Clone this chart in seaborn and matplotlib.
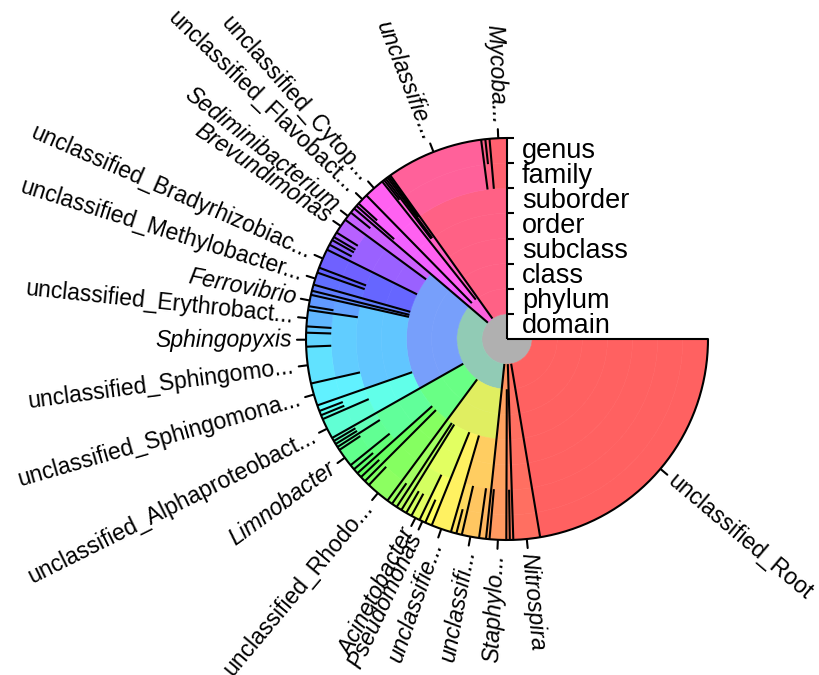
import numpy as np
import matplotlib
matplotlib.use("Agg")
import matplotlib.pyplot as plt
from matplotlib import transforms, markers
import seaborn as sns

sns.set_style("white")
plt.rcParams["font.family"] = ["Liberation Sans", "DejaVu Sans"]

# ---------------- data ----------------
ranks = ["domain", "phylum", "class", "subclass", "order", "suborder", "family", "genus"]

ACT = "Bacteria;Actinobacteria;Actinobacteria;Actinobacteridae;Actinomycetales;Corynebacterineae;"
SPB = "Bacteria;Bacteroidetes;Sphingobacteriia;Sphingobacteriia_sc;Sphingobacteriales;"
CYT = "Bacteria;Bacteroidetes;Cytophagia;Cytophagia_sc;Cytophagales;Cytophagales_so;"
FLA = "Bacteria;Bacteroidetes;Flavobacteriia;Flavobacteriia_sc;Flavobacteriales;Flavobacteriales_so;"
ALP = "Bacteria;Proteobacteria;Alphaproteobacteria;Alphaproteobacteria_sc;"
BET = "Bacteria;Proteobacteria;Betaproteobacteria;Betaproteobacteria_sc;"
GAM = "Bacteria;Proteobacteria;Gammaproteobacteria;Gammaproteobacteria_sc;"
FIR = "Bacteria;Firmicutes;"

lineage = [
    ACT + "Mycobacteriaceae;Mycobacterium",
    ACT + "Nocardiaceae;Rhodococcus",
    ACT + "Nocardiaceae;Nocardia",
    ACT + "unclassified_Corynebacterineae;unclassified_Corynebacterineae",
    SPB + "Sphingobacteriales_so1;Sphingobacteriaceae;Pedobacter",
    SPB + "Sphingobacteriales_so1;Saprospiraceae;Haliscomenobacter",
    SPB + "Sphingobacteriales_so2;Chitinophagaceae;Ferruginibacter",
    SPB + "Sphingobacteriales_so3;Chitinophagaceae;Terrimonas",
    SPB + "Sphingobacteriales_so3;Chitinophagaceae;Flavisolibacter",
    CYT + "unclassified_Cytophagales;unclassified_Cytophagales",
    FLA + "Flavobacteriaceae;unclassified_Flavobacteriaceae",
    FLA + "Flavobacteriaceae;Flavobacterium",
    FLA + "Cryomorphaceae;Fluviicola",
    ALP + "Parvularculales;Parvularculales_so;Parvularculaceae;Parvularcula",
    ALP + "Parvularculales;Parvularculales_so;Parvularculaceae;Sediminibacterium",
    ALP + "Caulobacterales;Caulobacterales_so;Caulobacteraceae;Brevundimonas",
    ALP + "Caulobacterales;Caulobacterales_so;Caulobacteraceae;Caulobacter",
    ALP + "Caulobacterales;Caulobacterales_so;Caulobacteraceae;Phenylobacterium",
    ALP + "Caulobacterales;Caulobacterales_so;Caulobacteraceae;Asticcacaulis",
    ALP + "Caulobacterales;Caulobacterales_so;Caulobacteraceae;Brevundimonas_2",
    ALP + "Rhizobiales;Rhizobiales_so;Bradyrhizobiaceae;unclassified_Bradyrhizobiaceae",
    ALP + "Rhizobiales;Rhizobiales_so;Hyphomicrobiaceae;Hyphomicrobium",
    ALP + "Rhizobiales;Rhizobiales_so;Methylobacteriaceae;unclassified_Methylobacteriaceae",
    ALP + "Rhodobacterales;Rhodobacterales_so;Rhodobacteraceae;Rhodobacter",
    ALP + "Rickettsiales;Rickettsiales_so;Rickettsiaceae;Rickettsia",
    ALP + "Sphingomonadales;Sphingomonadales_so;Rhodospirillaceae;Ferrovibrio",
    ALP + "Sphingomonadales;Sphingomonadales_so;Rhodospirillaceae;Azospirillum",
    ALP + "Sphingomonadales;Sphingomonadales_so;Sphingomonadaceae;unclassified_Erythrobacteraceae",
    ALP + "Sphingomonadales;Sphingomonadales_so;Sphingomonadaceae;Sphingomonas",
    ALP + "Sphingomonadales;Sphingomonadales_so;Sphingomonadaceae;Sphingopyxis",
    ALP + "Sphingomonadales;Sphingomonadales_so;Sphingomonadaceae;unclassified_Sphingomonadaceae",
    ALP + "Sphingomonadales;Sphingomonadales_so;unclassified_Sphingomonadales;unclassified_Sphingomonadales",
    ALP + "unclassified_Alphaproteobacteria;unclassified_Alphaproteobacteria;Alpha_f1;Alpha_g1",
    ALP + "unclassified_Alphaproteobacteria;unclassified_Alphaproteobacteria;Alpha_f1;Alpha_g2",
    ALP + "unclassified_Alphaproteobacteria;unclassified_Alphaproteobacteria;Alpha_f1;Alpha_g3",
    ALP + "unclassified_Alphaproteobacteria;unclassified_Alphaproteobacteria;unclassified_Alphaproteobacteria;unclassified_Alphaproteobacteria",
    BET + "Burkholderiales;Burkholderiales_so;Comamonadaceae;Acidovorax",
    BET + "Burkholderiales;Burkholderiales_so;Comamonadaceae;Hydrogenophaga",
    BET + "Burkholderiales;Burkholderiales_so;Comamonadaceae;Curvibacter",
    BET + "Burkholderiales;Burkholderiales_so;Burkholderiaceae;Ralstonia",
    BET + "Burkholderiales;Burkholderiales_so;Burkholderiaceae;Limnobacter",
    BET + "Burkholderiales;Burkholderiales_so;Oxalobacteraceae;Massilia",
    BET + "Burkholderiales;Burkholderiales_so;Oxalobacteraceae;Undibacterium",
    BET + "Methylophilales;Methylophilales_so;Methylophilaceae;Methylotenera",
    BET + "Methylophilales;Methylophilales_so;Methylophilaceae;Methylophilus",
    BET + "Rhodocyclales;Rhodocyclales_so;Rhodocyclaceae;Dechloromonas",
    BET + "Rhodocyclales;Rhodocyclales_so;Rhodocyclaceae;unclassified_Rhodocyclaceae",
    GAM + "Enterobacteriales;Enterobacteriales_so;Enterobacteriaceae;Escherichia",
    GAM + "Enterobacteriales;Enterobacteriales_so;Enterobacteriaceae;Enterobacter",
    GAM + "Legionellales;Legionellales_so;Legionellaceae;Legionella",
    GAM + "Pseudomonadales;Pseudomonadales_so;Moraxellaceae;Enhydrobacter",
    GAM + "Pseudomonadales;Pseudomonadales_so;Moraxellaceae;Psychrobacter",
    GAM + "Pseudomonadales;Pseudomonadales_so;Moraxellaceae;Acinetobacter",
    GAM + "Pseudomonadales;Pseudomonadales_so;Pseudomonadaceae;Pseudomonas",
    GAM + "Pseudomonadales;Pseudomonadales_so;Pseudomonadaceae;Cellvibrio",
    GAM + "unclassified_Gammaproteobacteria;unclassified_Gammaproteobacteria;unclassified_Gammaproteobacteria;unclassified_Gammaproteobacteria",
    GAM + "Xanthomonadales;Xanthomonadales_so;Xanthomonadaceae;Stenotrophomonas",
    GAM + "Xanthomonadales;Xanthomonadales_so;Xanthomonadaceae;Lysobacter",
    GAM + "Xanthomonadales;Xanthomonadales_so;unclassified_Xanthomonadales;unclassified_Xanthomonadales",
    GAM + "Xanthomonadales;Xanthomonadales_so;Sinobacteraceae;Nevskia",
    FIR + "Bacilli;Bacilli_sc;Bacillales;Bacillales_so;Bacillaceae;Bacillus",
    FIR + "Bacilli;Bacilli_sc;Bacillales;Bacillales_so;Staphylococcaceae;Staphylococcus",
    FIR + "Clostridia;Clostridia_sc;Clostridiales;Clostridiales_so;Lachnospiraceae;Blautia",
    FIR + "Clostridia;Clostridia_sc;Clostridiales;Clostridiales_so;Ruminococcaceae;Faecalibacterium",
    "Bacteria;Nitrospirae;Nitrospira_c;Nitrospira_sc;Nitrospirales;Nitrospirales_so;Nitrospiraceae;Nitrospira",
    "Bacteria;unclassified_Root;unclassified_Root;unclassified_Root;unclassified_Root;unclassified_Root;unclassified_Root;unclassified_Root",
]

reads = [50, 12, 12, 281,
         5, 5, 6, 6, 7, 60, 32, 9, 10,
         15, 26, 44, 15, 10, 15, 16, 56, 15, 36, 18, 12,
         33, 11, 47, 18, 40, 106, 65, 17, 13, 12, 60,
         10, 10, 10, 10, 54, 15, 15, 15, 16, 16, 69,
         16, 16, 16, 16, 17, 26, 18, 20, 58, 16, 16, 50, 20,
         10, 48, 10, 10, 77, 805]

# genus -> text shown at the rim
display = {
    "Mycobacterium": "Mycoba...",
    "unclassified_Corynebacterineae": "unclassifie...",
    "unclassified_Cytophagales": "unclassified_Cytop...",
    "unclassified_Flavobacteriaceae": "unclassified_Flavobact...",
    "Sediminibacterium": "Sediminibacterium",
    "Brevundimonas": "Brevundimonas",
    "unclassified_Bradyrhizobiaceae": "unclassified_Bradyrhizobiac...",
    "unclassified_Methylobacteriaceae": "unclassified_Methylobacter...",
    "Ferrovibrio": "Ferrovibrio",
    "unclassified_Erythrobacteraceae": "unclassified_Erythrobact...",
    "Sphingopyxis": "Sphingopyxis",
    "unclassified_Sphingomonadaceae": "unclassified_Sphingomo...",
    "unclassified_Sphingomonadales": "unclassified_Sphingomona...",
    "unclassified_Alphaproteobacteria": "unclassified_Alphaproteobact...",
    "Limnobacter": "Limnobacter",
    "unclassified_Rhodocyclaceae": "unclassified_Rhodo...",
    "Acinetobacter": "Acinetobacter",
    "Pseudomonas": "Pseudomonas",
    "unclassified_Gammaproteobacteria": "unclassifie...",
    "unclassified_Xanthomonadales": "unclassifi...",
    "Staphylococcus": "Staphylo...",
    "Nitrospira": "Nitrospira",
    "unclassified_Root": "unclassified_Root",
}

# ---------------- geometry ----------------
N = len(lineage)
paths = [s.split(";") for s in lineage]
sizes = np.array(reads, float)
START, SPAN = 90.0, 270.0
edges = START + SPAN * np.concatenate([[0.0], np.cumsum(sizes)]) / sizes.sum()
leaf_rgb = np.array(sns.hls_palette(N, h=0.0, l=0.69, s=1.0))[::-1]

W, H, DPI = 820, 675, 100
cx, cy, RPX = 507, 339, 201
fig = plt.figure(figsize=(W / DPI, H / DPI), dpi=DPI)
ax = fig.add_axes([(cx - RPX) / W, (H - cy - RPX) / H, 2 * RPX / W, 2 * RPX / H],
                  projection="polar")
NR = len(ranks)
ax.set_ylim(0, NR)
ax.set_axis_off()

# rings: one bar per taxon per rank, coloured by the mean colour of its leaves
for k in range(NR):
    keys = [";".join(p[:k + 1]) for p in paths]
    i = 0
    while i < N:
        j = i
        while j + 1 < N and keys[j + 1] == keys[i]:
            j += 1
        col = leaf_rgb[i:j + 1].mean(axis=0)
        t0, t1 = np.deg2rad(edges[i]), np.deg2rad(edges[j + 1])
        ax.bar(t0, 1, width=t1 - t0, bottom=k, align="edge", color=col,
               edgecolor=col, linewidth=0.4)
        i = j + 1

LW = 1.5
# boundary lines start at the rank where neighbours diverge
for i in range(1, N):
    a, b = paths[i - 1], paths[i]
    depth = next(k for k in range(NR) if a[k] != b[k])
    t = np.deg2rad(edges[i])
    ax.plot([t, t], [depth, NR], color="black", lw=LW, solid_capstyle="butt")
for e in (edges[0], edges[-1]):
    t = np.deg2rad(e)
    ax.plot([t, t], [0, NR], color="black", lw=LW, solid_capstyle="butt", clip_on=False)

# outer arc
tt = np.deg2rad(np.linspace(edges[0], edges[-1], 500))
ax.plot(tt, np.full_like(tt, NR), color="black", lw=LW, clip_on=False)

# rank axis ticks and labels
ax.plot(np.full(NR, np.pi / 2), np.arange(1, NR + 1), ls="none", marker=markers.TICKRIGHT,
        ms=5, mew=LW, color="black", clip_on=False)
trans = transforms.offset_copy(ax.transData, fig=fig, x=15, y=0, units="dots")
for k, name in enumerate(ranks):
    ax.text(np.pi / 2, k + 0.5, name, transform=trans, ha="left", va="center",
            fontsize=19.5, color="black")

# taxon labels at the rim
for i in range(N):
    genus = paths[i][-1]
    if genus not in display:
        continue
    text = display[genus]
    mid = 0.5 * (edges[i] + edges[i + 1])
    t = np.deg2rad(mid)
    ax.plot([t, t], [NR + 0.04, NR + 0.36], color="black", lw=LW, clip_on=False)
    if mid <= 270:
        rot, ha = mid - 180, "right"
    else:
        rot, ha = mid - 360, "left"
    style = "normal" if text.startswith("unclassified") else "italic"
    ax.text(t, NR + 0.55, text, rotation=rot, rotation_mode="anchor", ha=ha,
            va="center", fontsize=16.6, style=style, color="black")

fig.savefig("out.png", dpi=DPI)
